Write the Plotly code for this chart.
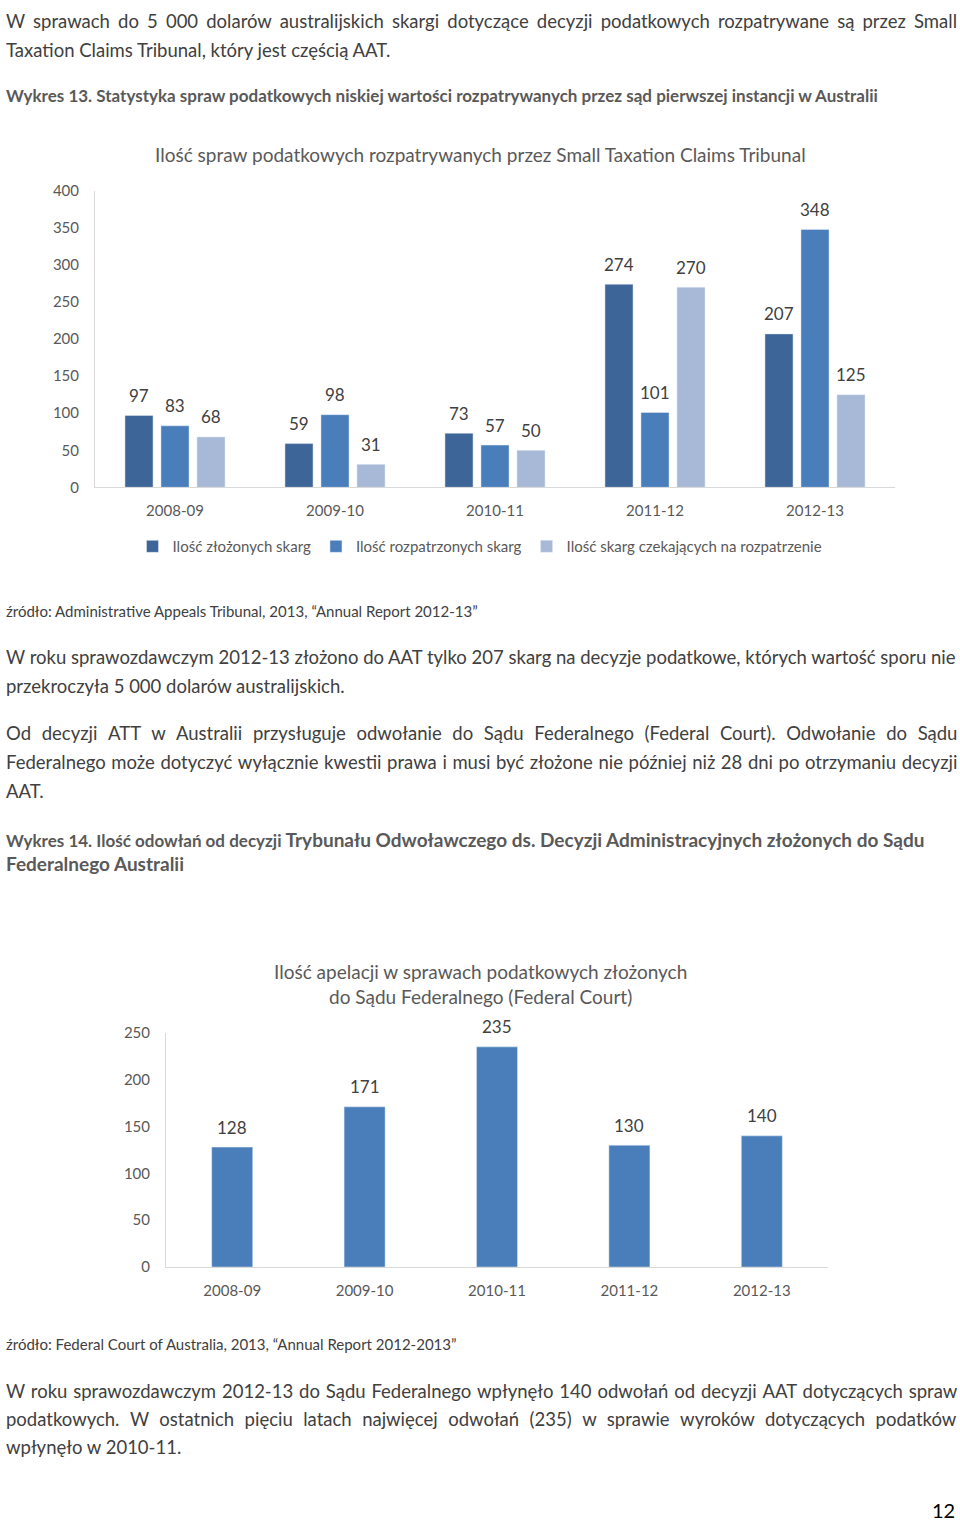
import math
import plotly.graph_objects as go

W, H = 960, 1528
FONT = "Lato"

# --- data: wykres 13 ---
lata = ["2008-09", "2009-10", "2010-11", "2011-12", "2012-13"]
zlozone = [97, 59, 73, 274, 207]
rozpatrzone = [83, 98, 57, 101, 348]
czekajace = [68, 31, 50, 270, 125]
serie_13 = ["Ilość złożonych skarg", "Ilość rozpatrzonych skarg",
            "Ilość skarg czekających na rozpatrzenie"]

# --- data: wykres 14 ---
apelacje = [128, 171, 235, 130, 140]

kolory = ["#3E6597", "#4A7EBB", "#A8B9D8"]
GRAY = "#595959"
TEXT = "#404040"
BARGAP = 0.325


def py(p):
    # piksel od góry -> współrzędna paper
    return 1 - p / H


def px_(p):
    return p / W


fig = go.Figure()

slot = (1 - BARGAP) / len(serie_13)
for k, (nazwa, wart, kol) in enumerate(zip(serie_13, [zlozone, rozpatrzone, czekajace], kolory)):
    fig.add_trace(go.Bar(x=lata, y=wart, name=nazwa, marker_color=kol,
                         xaxis="x", yaxis="y"))
    # etykiety danych nad słupkami
    for i, v in enumerate(wart):
        fig.add_annotation(xref="x", yref="y", x=i + (k - 1) * slot, y=v, text=str(v),
                           showarrow=False, yshift=20, yanchor="middle",
                           font=dict(size=17, color=TEXT, family=FONT))

fig.add_trace(go.Bar(x=lata, y=apelacje, marker_color="#4A7EBB", width=0.31,
                     showlegend=False, xaxis="x2", yaxis="y2"))
for i, v in enumerate(apelacje):
    fig.add_annotation(xref="x2", yref="y2", x=i, y=v, text=str(v),
                       showarrow=False, yshift=20, yanchor="middle",
                       font=dict(size=17, color=TEXT, family=FONT))

axis_common = dict(showgrid=False, zeroline=False, showline=True,
                   linecolor="#D9D9D9", linewidth=1, ticks="",
                   tickfont=dict(size=15, color=GRAY, family=FONT))

fig.update_layout(
    width=W, height=H,
    margin=dict(l=0, r=0, t=0, b=0),
    paper_bgcolor="white", plot_bgcolor="white",
    font=dict(family=FONT, color=TEXT),
    barmode="group", bargap=BARGAP, bargroupgap=0.22,
    xaxis=dict(domain=[px_(95), px_(895)], anchor="y", type="category",
               ticklabelstandoff=10, **axis_common),
    yaxis=dict(domain=[py(483), py(183)], anchor="x", range=[0, 400], dtick=50,
               ticklabelstandoff=12, **axis_common),
    xaxis2=dict(domain=[px_(166), px_(828)], anchor="y2", type="category",
                ticklabelstandoff=10, **axis_common),
    yaxis2=dict(domain=[py(1272), py(1035)], anchor="x2", range=[0, 250], dtick=50,
                ticklabelstandoff=12, **axis_common),
    legend=dict(orientation="h", x=0.5, xanchor="center", y=py(543), yanchor="middle",
                font=dict(size=15, color=GRAY, family=FONT), itemwidth=30,
                bgcolor="rgba(0,0,0,0)"),
)


def justuj(s, extra):
    # rozciąga odstępy między słowami o 'extra' pikseli (tekst wyjustowany)
    slowa = s.split(" ")
    gap = extra / (len(slowa) - 1)
    n = max(1, math.ceil(gap / 3.5))
    fs = gap / n / 0.26
    wypelnienie = "<span style='font-size:%.1fpx'>%s</span>" % (fs, "\u00a0" * n)
    return (" " + wypelnienie).join(slowa)


def tekst(y, s, size=18.5, color=TEXT, x=4, anchor="left"):
    fig.add_annotation(xref="paper", yref="paper", x=px_(x), y=py(y), text=s,
                       showarrow=False, xanchor=anchor, yanchor="middle",
                       align=anchor, font=dict(size=size, color=color, family=FONT))


tekst(11, justuj("W sprawach do 5 000 dolarów australijskich skargi dotyczące decyzji podatkowych rozpatrywane są przez Small", 48))
tekst(40, "Taxation Claims Tribunal, który jest częścią AAT.")
tekst(87, "<b>Wykres 13. Statystyka spraw podatkowych niskiej wartości rozpatrywanych przez sąd pierwszej instancji w Australii</b>",
      size=17, color=GRAY)
tekst(146, "Ilość spraw podatkowych rozpatrywanych przez Small Taxation Claims Tribunal",
      size=19, color=GRAY, x=480, anchor="center")
tekst(608, "źródło: Administrative Appeals Tribunal, 2013, “Annual Report 2012-13”", size=15)
tekst(655, "W roku sprawozdawczym 2012-13 złożono do AAT tylko 207 skarg na decyzje podatkowe, których wartość sporu nie")
tekst(684, "przekroczyła 5 000 dolarów australijskich.")
tekst(732, justuj("Od decyzji ATT w Australii przysługuje odwołanie do Sądu Federalnego (Federal Court). Odwołanie do Sądu", 84))
tekst(761, justuj("Federalnego może dotyczyć wyłącznie kwestii prawa i musi być złożone nie później niż 28 dni po otrzymaniu decyzji", 14))
tekst(790, "AAT.")
tekst(839, "<b><span style='font-size:17px'>Wykres 14. Ilość odowłań od decyzji</span> Trybunału Odwoławczego ds. Decyzji Administracyjnych złożonych do Sądu</b>",
      size=19, color=GRAY)
tekst(864, "<b>Federalnego Australii</b>", size=19, color=GRAY)
tekst(973, "Ilość apelacji w sprawach podatkowych złożonych", size=19, color=GRAY, x=480, anchor="center")
tekst(998, "do Sądu Federalnego (Federal Court)", size=19, color=GRAY, x=480, anchor="center")
tekst(1350, "źródło: Federal Court of Australia, 2013, “Annual Report 2012-2013”", size=15)
tekst(1397, justuj("W roku sprawozdawczym 2012-13 do Sądu Federalnego wpłynęło 140 odwołań od decyzji AAT dotyczących spraw", 16))
tekst(1426, justuj("podatkowych. W ostatnich pięciu latach najwięcej odwołań (235) w sprawie wyroków dotyczących podatków", 70))
tekst(1454, "wpłynęło w 2010-11.")
tekst(1518, "12", size=20, color="#000000", x=957, anchor="right")

fig.write_html("out.html", config={"displayModeBar": False},
               post_script="document.body.style.margin='0';")
